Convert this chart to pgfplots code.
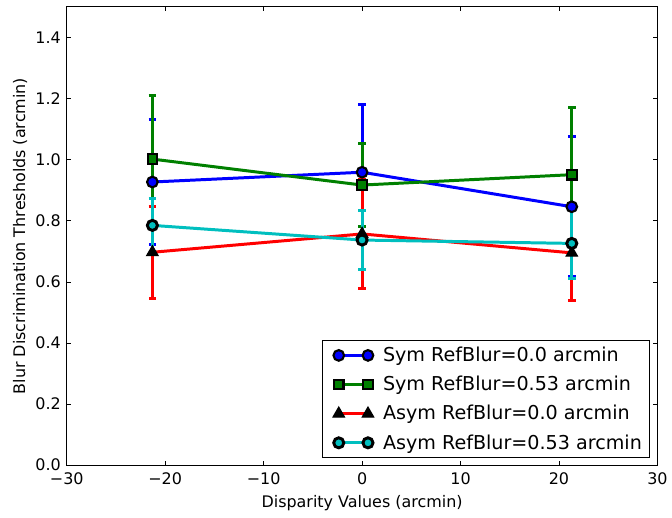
\documentclass[border=0pt]{standalone}
\usepackage{fontspec}
\setmainfont{DejaVu Sans}
\usepackage{pgfplots}
\pgfplotsset{compat=1.18}
\definecolor{mb}{rgb}{0,0,1}
\definecolor{mg}{rgb}{0,0.5,0}
\definecolor{mr}{rgb}{1,0,0}
\definecolor{mc}{rgb}{0,0.75,0.75}
\pgfplotsset{
  ebar/.style={error bars/.cd, y dir=both, y explicit,
    error bar style={line width=2.25pt, #1},
    error mark options={rotate=90, line width=2.25pt, mark size=2.8pt, #1}},
}
\begin{document}
\begin{tikzpicture}
\begin{axis}[name=ax,
  width=444.75pt, height=345pt, scale only axis,
  xmin=-30, xmax=30, ymin=0, ymax=1.5,
  xtick={-30,-20,...,30},
  xticklabels={−30,−20,−10,0,10,20,30},
  ytick={0,0.2,...,1.4},
  yticklabels={0.0,0.2,0.4,0.6,0.8,1.0,1.2,1.4},
  tick pos=both, tick align=inside,
  major tick length=3pt,
  tick style={black, line width=0.6pt},
  axis line style={line width=0.75pt},
  ticklabel style={font=\fontsize{12}{14}\selectfont},
  xticklabel style={yshift=-2pt},
  yticklabel style={xshift=-1pt},
  xlabel={Disparity Values (arcmin)},
  ylabel={Blur Discrimination Thresholds (arcmin)},
  every axis x label/.style={at={(axis description cs:0.5,-0.083)}, anchor=center,
    font=\fontsize{12}{14}\selectfont},
  every axis y label/.style={at={(axis description cs:-0.079,0.5)}, rotate=90, anchor=center,
    font=\fontsize{12}{14}\selectfont},
  legend cell align=left,
  legend style={at={(axis description cs:0.988,0.0152)}, anchor=south east,
    font=\fontsize{14.4}{17}\selectfont, draw=black, line width=0.75pt,
    row sep=5.5pt, inner xsep=2pt, inner ysep=3pt,
    nodes={inner xsep=4pt},
    /tikz/every odd column/.style={column sep=3pt}},
  legend image code/.code={\path (-5pt,0pt);
    \draw[#1, mark repeat=2, mark phase=1]
    plot coordinates {(4pt,0pt) (15pt,0pt) (26pt,0pt)};},
]
\addplot[mb, line width=2.25pt, mark=*, mark size=4pt,
  mark options={fill=mb, draw=black, line width=1.6pt}, ebar=mb]
  coordinates {(-21.3,0.927) +- (0,0.205) (0,0.959) +- (0,0.222) (21.3,0.846) +- (0,0.229)};
\addlegendentry{Sym RefBlur=0.0 arcmin}
\addplot[mg, line width=2.25pt, mark=square*, mark size=3.6pt,
  mark options={fill=mg, draw=black, line width=1.6pt}, ebar=mg]
  coordinates {(-21.3,1.002) +- (0,0.207) (0,0.917) +- (0,0.136) (21.3,0.951) +- (0,0.221)};
\addlegendentry{Sym RefBlur=0.53 arcmin}
\addplot[mr, line width=2.25pt, mark=triangle*, mark size=5pt,
  mark options={fill=black, draw=black, line width=0.8pt}, ebar=mr]
  coordinates {(-21.3,0.697) +- (0,0.151) (0,0.757) +- (0,0.178) (21.3,0.695) +- (0,0.155)};
\addlegendentry{Asym RefBlur=0.0 arcmin}
\addplot[mc, line width=2.25pt, mark=*, mark size=3.8pt,
  mark options={fill=mc, draw=black, line width=2.2pt}, ebar=mc]
  coordinates {(-21.3,0.785) +- (0,0.087) (0,0.737) +- (0,0.097) (21.3,0.726) +- (0,0.115)};
\addlegendentry{Asym RefBlur=0.53 arcmin}
\end{axis}
\path (ax.south west) ++(-50.25pt,-39.75pt) rectangle ++(504pt,390pt);
\end{tikzpicture}
\end{document}
